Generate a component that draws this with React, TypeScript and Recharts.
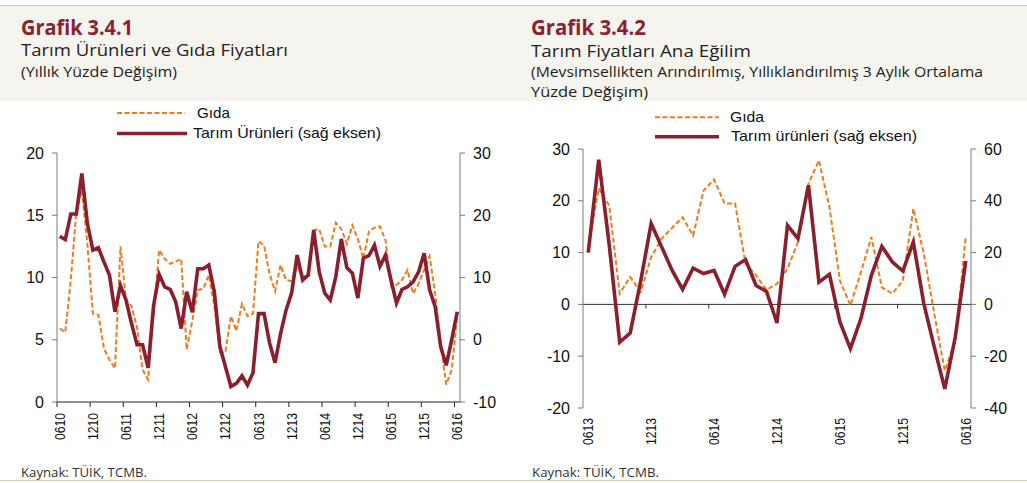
import React from 'react';
import { LineChart, Line, XAxis, YAxis, ReferenceLine } from 'recharts';

// ---------- Grafik 3.4.1 (monthly, 06.2010 - 06.2016) ----------
const gidaAnnual = [
  5.9, 5.6, 9.8, 15.3, 17.0, 12.7, 7.1, 7.0, 4.3, 3.4, 2.7, 12.5, 8.2, 7.7, 6.0, 2.6, 1.8, 7.1, 12.2, 11.5,
  11.1, 11.3, 11.5, 4.2, 6.5, 9.0, 9.1, 10.2, 7.7, 4.0, 4.0, 6.9, 5.7, 7.9, 6.9, 7.1, 12.9, 12.6, 10.3, 8.9,
  11.0, 9.8, 9.7, 10.9, 10.1, 10.1, 13.8, 13.9, 12.5, 12.5, 14.4, 13.9, 12.7, 14.2, 13.1, 11.5, 13.7, 14.0, 14.1, 13.0,
  9.3, 9.4, 9.8, 10.6, 8.7, 9.5, 10.6, 11.7, 8.7, 4.7, 1.4, 2.6, 6.9,
];
const tarimAnnual = [
  16.6, 16.1, 20.2, 20.2, 26.7, 18.7, 14.4, 14.8, 12.5, 10.4, 4.5, 8.7, 6.4, 2.6, -0.8, -0.8, -4.5, 5.5, 10.5, 8.5,
  8.1, 6.1, 1.8, 7.7, 4.4, 11.4, 11.4, 12.0, 7.7, -1.1, -4.3, -7.5, -7.0, -5.8, -7.3, -5.3, 4.2, 4.2, -0.5, -3.7,
  1.0, 4.8, 7.5, 13.6, 9.6, 10.4, 17.6, 10.9, 7.5, 6.4, 10.1, 16.2, 11.6, 10.7, 6.7, 13.1, 13.5, 15.2, 11.8, 13.6,
  9.6, 5.9, 8.1, 8.5, 9.3, 10.9, 13.9, 8.0, 5.3, -1.1, -4.1, 0.0, 4.5,
];
const annualTickLabels = ['0610', '1210', '0611', '1211', '0612', '1212', '0613', '1213', '0614', '1214', '0615', '1215', '0616'];
const annualLeftTicks = [0, 5, 10, 15, 20];
const annualRightTicks = [-10, 0, 10, 20, 30];

// ---------- Grafik 3.4.2 (monthly, 06.2013 - 06.2016) ----------
const gidaTrend = [
  11.0, 22.4, 19.1, 2.1, 5.3, 2.4, 9.1, 12.7, 14.8, 16.8, 13.3, 22.0, 24.1, 19.5, 19.5, 7.9, 5.6, 2.8, 4.0, 6.9,
  12.0, 23.3, 27.8, 18.8, 4.6, -0.2, 6.2, 13.0, 3.3, 2.1, 4.6, 18.5, 9.8, -1.8, -12.8, -7.0, 13.0,
];
const tarimTrend = [
  20.0, 55.9, 23.0, -14.6, -11.1, 9.0, 31.2, 22.2, 13.1, 5.8, 14.0, 11.9, 13.1, 3.9, 14.7, 17.3, 7.3, 5.0, -7.2, 30.5,
  25.4, 46.0, 8.6, 11.6, -6.8, -17.1, -5.5, 11.2, 22.4, 16.4, 12.9, 24.1, 0.3, -16.5, -32.6, -12.6, 16.8,
];
const trendTickLabels = ['0613', '1213', '0614', '1214', '0615', '1215', '0616'];
const trendLeftTicks = [-20, -10, 0, 10, 20, 30];
const trendRightTicks = [-40, -20, 0, 20, 40, 60];

const STEP = 6; // label every 6 months

const annualData = gidaAnnual.map((g, i) => ({ m: i + 0.5, gida: g, tarim: tarimAnnual[i] }));
const trendData = gidaTrend.map((g, i) => ({ m: i + 0.5, gida: g, tarim: tarimTrend[i] }));
const annualTicks = annualTickLabels.map((_, k) => k * STEP);
const trendTicks = trendTickLabels.map((_, k) => k * STEP);

const RED = '#8a1f2e';
const ORANGE = '#ee7b1e';
const TITLE_RED = '#8b2232';
const AXIS_FONT = '"Liberation Sans", Arial, sans-serif';
const HEAD_FONT = '"Open Sans", "Noto Sans", sans-serif';
const Y_AXIS_COLOR = '#7a7a7a';

// layout constants
const P1 = { w: 510, h: 483, top: 153, left: 17, right: 10, bottom: 36, yw: 40, xh: 45 };
const P2 = { w: 512, h: 483, top: 149, left: 28, right: 16, bottom: 30, yw: 40, xh: 45 };
const p1PlotW = P1.w - P1.left - P1.right - 2 * P1.yw;
const p2PlotW = P2.w - P2.left - P2.right - 2 * P2.yw;
const p1Half = p1PlotW / (gidaAnnual.length) / 2;
const p2Half = p2PlotW / (gidaTrend.length) / 2;

const RotTick = (props: any) => {
  const { x, y, payload, labels, shift, drop } = props;
  const label = labels[Math.round(payload.value / STEP)];
  const tx = x + shift;
  const ty = y + drop;
  return (
    <text
      x={tx}
      y={ty}
      transform={`rotate(-90 ${tx} ${ty})`}
      textAnchor="end"
      dominantBaseline="central"
      fontSize={14}
      fontFamily={AXIS_FONT}
      fill="#111"
      textLength={27}
      lengthAdjust="spacingAndGlyphs"
    >
      {label}
    </text>
  );
};

const yTick = { fontSize: 16, fill: '#111', fontFamily: AXIS_FONT };

export default function App() {
  return (
    <div style={{ position: 'absolute', left: 0, top: 0, width: 1027, height: 483, background: '#fff', overflow: 'hidden' }}>
      {/* background bands */}
      <div style={{ position: 'absolute', left: 0, top: 5, width: 1027, height: 1, background: '#d9cbb4' }} />
      <div style={{ position: 'absolute', left: 0, top: 6, width: 1027, height: 95, background: '#f6f4ef' }} />
      <div style={{ position: 'absolute', left: 0, top: 480, width: 1027, height: 1, background: '#d9cbb4' }} />

      {/* Panel 1 */}
      <div style={{ position: 'absolute', left: 0, top: 0 }}>
        <LineChart width={P1.w} height={P1.h} data={annualData}
          margin={{ top: P1.top, right: P1.right, bottom: P1.bottom, left: P1.left }}>
          <XAxis dataKey="m" type="number" domain={[0, gidaAnnual.length]} ticks={annualTicks} interval={0}
            height={P1.xh} tickSize={5} axisLine={{ stroke: '#222' }} tickLine={{ stroke: '#222' }}
            tick={(p: any) => <RotTick {...p} labels={annualTickLabels} shift={p1Half} drop={4} />} />
          <YAxis yAxisId="left" domain={[0, 20]} ticks={annualLeftTicks} width={P1.yw} tickSize={5} tickMargin={8}
            axisLine={{ stroke: Y_AXIS_COLOR }} tickLine={{ stroke: Y_AXIS_COLOR }} tick={yTick} interval={0} />
          <YAxis yAxisId="right" orientation="right" domain={[-10, 30]} ticks={annualRightTicks} width={P1.yw}
            tickSize={5} tickMargin={8} axisLine={{ stroke: Y_AXIS_COLOR }} tickLine={{ stroke: Y_AXIS_COLOR }}
            tick={yTick} interval={0} />
          <Line yAxisId="left" dataKey="gida" type="linear" stroke={ORANGE} strokeWidth={2}
            strokeDasharray="5 2.5" dot={false} activeDot={false} isAnimationActive={false} />
          <Line yAxisId="right" dataKey="tarim" type="linear" stroke={RED} strokeWidth={3.6}
            dot={false} activeDot={false} isAnimationActive={false} />
        </LineChart>
      </div>

      {/* Panel 2 */}
      <div style={{ position: 'absolute', left: 515, top: 0 }}>
        <LineChart width={P2.w} height={P2.h} data={trendData}
          margin={{ top: P2.top, right: P2.right, bottom: P2.bottom, left: P2.left }}>
          <XAxis dataKey="m" type="number" domain={[0, gidaTrend.length]} ticks={trendTicks} interval={0}
            height={P2.xh} tickSize={0} axisLine={false} tickLine={false}
            tick={(p: any) => <RotTick {...p} labels={trendTickLabels} shift={p2Half} drop={8} />} />
          <YAxis yAxisId="left" domain={[-20, 30]} ticks={trendLeftTicks} width={P2.yw} tickSize={5} tickMargin={8}
            axisLine={{ stroke: Y_AXIS_COLOR }} tickLine={{ stroke: Y_AXIS_COLOR }} tick={yTick} interval={0} />
          <YAxis yAxisId="right" orientation="right" domain={[-40, 60]} ticks={trendRightTicks} width={P2.yw}
            tickSize={5} tickMargin={8} axisLine={{ stroke: Y_AXIS_COLOR }} tickLine={{ stroke: Y_AXIS_COLOR }}
            tick={yTick} interval={0} />
          <ReferenceLine yAxisId="left" y={0} stroke="#333" strokeWidth={1} />
          {trendTicks.slice(1).map((t) => (
            <ReferenceLine key={t} yAxisId="left" segment={[{ x: t, y: 0 }, { x: t, y: -0.8 }]} stroke="#333" strokeWidth={1} />
          ))}
          <Line yAxisId="left" dataKey="gida" type="linear" stroke={ORANGE} strokeWidth={2}
            strokeDasharray="5 2.5" dot={false} activeDot={false} isAnimationActive={false} />
          <Line yAxisId="right" dataKey="tarim" type="linear" stroke={RED} strokeWidth={3.6}
            dot={false} activeDot={false} isAnimationActive={false} />
        </LineChart>
      </div>

      {/* Texts and legends */}
      <svg width={1027} height={483} style={{ position: 'absolute', left: 0, top: 0, pointerEvents: 'none' }}>
        <text x={21} y={35} fontFamily={HEAD_FONT} fontWeight={700} fontSize={22} fill={TITLE_RED} textLength={112} lengthAdjust="spacingAndGlyphs">Grafik 3.4.1</text>
        <text x={21} y={56} fontFamily={HEAD_FONT} fontSize={16} fill="#231f20" textLength={267} lengthAdjust="spacingAndGlyphs">Tarım Ürünleri ve Gıda Fiyatları</text>
        <text x={21} y={77} fontFamily={HEAD_FONT} fontSize={15} fill="#231f20" textLength={156} lengthAdjust="spacingAndGlyphs">(Yıllık Yüzde Değişim)</text>

        <text x={531} y={35} fontFamily={HEAD_FONT} fontWeight={700} fontSize={22} fill={TITLE_RED} textLength={115} lengthAdjust="spacingAndGlyphs">Grafik 3.4.2</text>
        <text x={531} y={57} fontFamily={HEAD_FONT} fontSize={16} fill="#231f20" textLength={220} lengthAdjust="spacingAndGlyphs">Tarım Fiyatları Ana Eğilim</text>
        <text x={531} y={77} fontFamily={HEAD_FONT} fontSize={15} fill="#231f20" textLength={452} lengthAdjust="spacingAndGlyphs">(Mevsimsellikten Arındırılmış, Yıllıklandırılmış 3 Aylık Ortalama</text>
        <text x={531} y={96.5} fontFamily={HEAD_FONT} fontSize={15} fill="#231f20" textLength={117} lengthAdjust="spacingAndGlyphs">Yüzde Değişim)</text>

        {/* legend 1 */}
        <line x1={117} x2={185} y1={113} y2={113} stroke={ORANGE} strokeWidth={2} strokeDasharray="5 2.5" />
        <text x={197} y={117.5} fontFamily={AXIS_FONT} fontSize={15} fill="#111" textLength={33} lengthAdjust="spacingAndGlyphs">Gıda</text>
        <line x1={117} x2={187} y1={133.5} y2={133.5} stroke={RED} strokeWidth={3.6} />
        <text x={193} y={138} fontFamily={AXIS_FONT} fontSize={15} fill="#111" textLength={188} lengthAdjust="spacingAndGlyphs">Tarım Ürünleri (sağ eksen)</text>

        {/* legend 2 */}
        <line x1={655} x2={719} y1={117.3} y2={117.3} stroke={ORANGE} strokeWidth={2} strokeDasharray="5 2.5" />
        <text x={730} y={121.5} fontFamily={AXIS_FONT} fontSize={15} fill="#111" textLength={34} lengthAdjust="spacingAndGlyphs">Gıda</text>
        <line x1={655} x2={719} y1={136.7} y2={136.7} stroke={RED} strokeWidth={3.6} />
        <text x={731} y={141} fontFamily={AXIS_FONT} fontSize={15} fill="#111" textLength={186} lengthAdjust="spacingAndGlyphs">Tarım ürünleri (sağ eksen)</text>

        {/* footers */}
        <text x={21} y={477} fontFamily={HEAD_FONT} fontSize={12} fill="#333" textLength={126} lengthAdjust="spacingAndGlyphs">Kaynak: TÜİK, TCMB.</text>
        <text x={532} y={477} fontFamily={HEAD_FONT} fontSize={12} fill="#333" textLength={127} lengthAdjust="spacingAndGlyphs">Kaynak: TÜİK, TCMB.</text>
      </svg>
    </div>
  );
}
